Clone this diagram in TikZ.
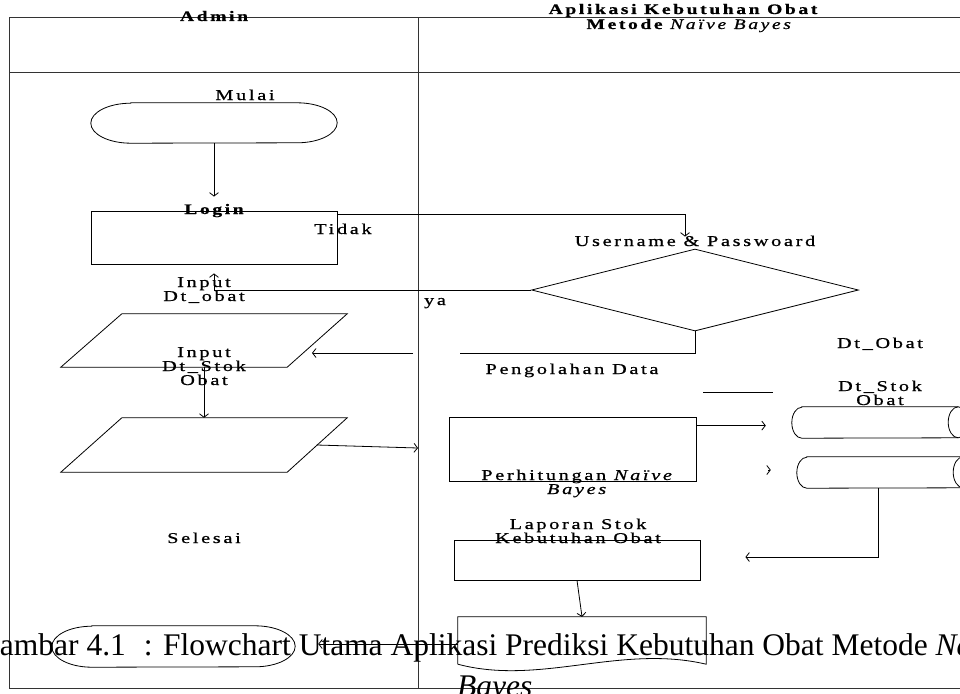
\documentclass[tikz,border=0pt]{standalone}
\usepackage{fontspec}
\usetikzlibrary{arrows.meta,shapes.geometric}
\newfontfamily\lblfont[LetterSpace=18,FakeStretch=1.35,FakeBold=0.8]{Liberation Serif}
\newfontfamily\capfont{Liberation Serif}

\begin{document}
\begin{tikzpicture}[x=1pt,y=-1pt,
  lbl/.style={font={\lblfont\fontsize{15}{14}\selectfont}, inner sep=0pt, anchor=base, align=center},
  lblb/.style={lbl, font={\lblfont\bfseries\fontsize{14.5}{15}\selectfont}},
  box/.style={draw, line width=0.8pt, inner sep=0pt, rectangle},
  ghost/.style={inner sep=0pt, rectangle},
  conn/.style={line width=0.8pt},
  arr/.style={conn, -{Straight Barb[length=3.5pt,width=9pt]}},
  lane/.style={line width=1pt, black!80},
  outline/.style={line width=0.8pt},
  capt/.style={font={\capfont\fontsize{31.5}{36}\selectfont}, inner sep=0pt, anchor=base west},
]
\useasboundingbox (0,0) rectangle (960,693);
\clip (0,0) rectangle (960,693);

% swimlane frame
\draw[lane] (960,18) -- (9,18) -- (9,688) -- (960,688);
\draw[lane] (9,72) -- (960,72);
\draw[lane] (418,18) -- (418,688);

% lane headers
\node[lblb] (hAdmin) at (214,21) {Admin};
\node[lblb] (hApp1) at (683,14) {Aplikasi Kebutuhan Obat};
\node[lblb] (hApp2) at (690,29) {Metode \textit{\mdseries Naïve Bayes}};

% start terminal
\node[ghost, minimum width=246pt, minimum height=40pt] (start) at (214,123) {};
\draw[outline] ([xshift=40pt]start.north west) -- ([xshift=-40pt]start.north east)
  arc[start angle=90,end angle=-90,x radius=40pt,y radius=20pt]
  -- ([xshift=40pt]start.south west)
  arc[start angle=270,end angle=90,x radius=40pt,y radius=20pt] -- cycle;
\node[lbl] (tMulai) at (245,100) {Mulai};

% login
\node[box, minimum width=246pt, minimum height=53pt] (login) at (214,237.5) {};
\node[lblb] (tLogin) at (214,214) {Login};
\draw[arr, shorten >=14pt] (start.south) -- (login.north);

% decision
\node[draw, diamond, outline, minimum width=327pt, minimum height=82pt, inner sep=0pt] (dec) at (695,290) {};
\node[lbl] (tUser) at (695,246) {Username \& Passwoard};
\draw[arr, shorten >=12pt] ([yshift=-4pt]login.north east) -| ([xshift=-10pt]dec.north);
\node[lbl] (tTidak) at (343,234) {Tidak};
\draw[arr, shorten >=9pt] (dec.west) -| (login.south);
\node[lbl] (tYa) at (435,305) {ya};
\node[lbl] (tInObat) at (204,301) {Input\\Dt\_obat};

% input parallelograms
\node[ghost, minimum width=286pt, minimum height=53pt] (in1) at (204,340.5) {};
\draw[outline] ([xshift=61pt]in1.north west) -- (in1.north east)
  -- ([xshift=-60pt]in1.south east) -- (in1.south west) -- cycle;
\node[ghost, minimum width=286pt, minimum height=54pt] (in2) at (204,445) {};
\draw[outline] ([xshift=61pt]in2.north west) -- (in2.north east)
  -- ([xshift=-60pt]in2.south east) -- (in2.south west) -- cycle;
\node[lbl] (tInStok) at (204,385) {Input\\Dt\_Stok\\Obat};
\draw[arr] (in1.south) -- (in2.north);

\coordinate (yaR) at (460,353);
\coordinate (yaL) at (413,353);
\draw[conn] (dec.south) |- (yaR);
\draw[arr, shorten >=108pt] (yaL) -- (yaL -| in1.center);
\coordinate (laneIn) at (418,448);
\draw[arr] ([xshift=-30.5pt]in2.east) -- (laneIn);

% processing
\node[lbl] (tPeng) at (572,374) {Pengolahan Data};
\coordinate (bar1) at (703,392);
\coordinate (bar2) at (773,392);
\draw[conn] (bar1) -- (bar2);

\node[lbl] (tDtObat) at (880,348) {Dt\_Obat};
\node[lbl] (tDtStok) at (880,405) {Dt\_Stok\\Obat};

% storage cylinders
\node[ghost, minimum width=176pt, minimum height=31pt] (dt1) at (880,422.5) {};
\draw[outline] ([xshift=10pt]dt1.north west) -- ([xshift=-10pt]dt1.north east)
  arc[start angle=90,end angle=-90,x radius=10pt,y radius=15.5pt]
  -- ([xshift=10pt]dt1.south west)
  arc[start angle=270,end angle=90,x radius=10pt,y radius=15.5pt] -- cycle;
\draw[outline] ([xshift=-10pt]dt1.north east) arc[start angle=90,end angle=270,x radius=10pt,y radius=15.5pt];
\node[ghost, minimum width=176pt, minimum height=31pt] (dt2) at (885,472.5) {};
\draw[outline] ([xshift=10pt]dt2.north west) -- ([xshift=-10pt]dt2.north east)
  arc[start angle=90,end angle=-90,x radius=10pt,y radius=15.5pt]
  -- ([xshift=10pt]dt2.south west)
  arc[start angle=270,end angle=90,x radius=10pt,y radius=15.5pt] -- cycle;
\draw[outline] ([xshift=-10pt]dt2.north east) arc[start angle=90,end angle=270,x radius=10pt,y radius=15.5pt];

\node[box, minimum width=247pt, minimum height=64pt] (perh) at (572.5,449) {};
\node[lbl] (tPerh) at (578,494) {Perhitungan \textit{Naïve}\\\textit{Bayes}};
\coordinate (perhOut) at ([yshift=-9pt]perh.north east);
\draw[arr, shorten >=26pt] (perhOut) -- (perhOut -| dt1.west);
\coordinate (stub) at (768,470);
\draw[arr, shorten >=26pt] (stub) -- (stub -| dt2.west);

% report
\node[box, minimum width=246pt, minimum height=40pt] (lap) at (577,560) {};
\node[lbl] (tLap) at (578,543) {Laporan Stok\\Kebutuhan Obat};
\draw[arr, shorten >=45pt] ([xshift=-7pt]dt2.south) |- ([yshift=3pt]lap.east);

\node[ghost, minimum width=248pt, minimum height=47pt] (doc) at (582,640.5) {};
\draw[outline] (doc.south west) -- (doc.north west) -- (doc.north east) -- (doc.south east)
  .. controls (620,644) and (540,686) .. (doc.south west);
\draw[arr] (lap.south) -- (doc.north);

% end terminal
\node[ghost, minimum width=243pt, minimum height=41pt] (fin) at (173.5,646.5) {};
\draw[outline] ([xshift=40pt]fin.north west) -- ([xshift=-40pt]fin.north east)
  arc[start angle=90,end angle=-90,x radius=40pt,y radius=20.5pt]
  -- ([xshift=40pt]fin.south west)
  arc[start angle=270,end angle=90,x radius=40pt,y radius=20.5pt] -- cycle;
\node[lbl] (tSel) at (204,543) {Selesai};
\coordinate (docOut) at ([yshift=-3.5pt]doc.west);
\draw[arr, shorten >=23pt] (docOut) -- (docOut -| fin.east);

% caption
\node[capt] (cap1) at (-23,655) {Gambar 4.1\hspace{18pt}: Flowchart Utama Aplikasi Prediksi Kebutuhan Obat Metode \textit{Naïve}};
\node[capt] (cap2) at (457,696) {\textit{Bayes}};
\end{tikzpicture}
\end{document}
